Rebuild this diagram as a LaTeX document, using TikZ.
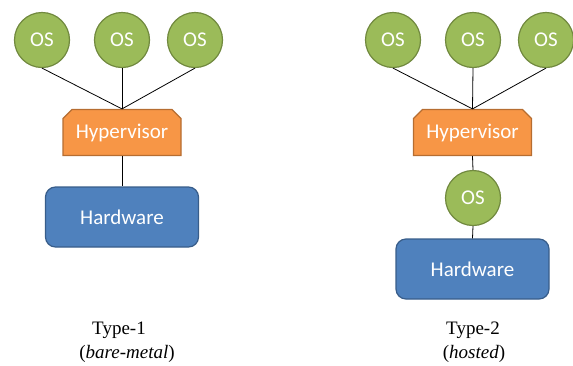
\documentclass[tikz,border=0pt]{standalone}
\usepackage{fontspec}
\setmainfont{Liberation Serif}
\newfontfamily\calib{Carlito}
\usetikzlibrary{shapes.misc}
\definecolor{osgreen}{HTML}{9BBB59}
\definecolor{osline}{HTML}{71893F}
\definecolor{hyporange}{HTML}{F79646}
\definecolor{hypline}{HTML}{B66D31}
\definecolor{hwblue}{HTML}{4F81BD}
\definecolor{hwline}{HTML}{385D8A}

\begin{document}
\begin{tikzpicture}
  [x=1pt,y=-1pt,
   osN/.style={circle,draw=osline,fill=osgreen,line width=1.2pt,minimum size=55pt,inner sep=0pt,
     text=white,font=\calib\fontsize{21}{25}\selectfont},
   hypN/.style={chamfered rectangle,chamfered rectangle corners={north west,north east},
     chamfered rectangle xsep=6pt,draw=hypline,fill=hyporange,line width=1.2pt,
     minimum width=118pt,minimum height=46pt,inner sep=0pt,
     text=white,font=\calib\fontsize{21}{25}\selectfont},
   hwN/.style={rectangle,rounded corners=10pt,draw=hwline,fill=hwblue,line width=1.2pt,
     minimum width=153pt,minimum height=60pt,inner sep=0pt,
     text=white,font=\calib\fontsize{21}{25}\selectfont},
   typeN/.style={font=\fontsize{19}{23}\selectfont},
   link/.style={black,line width=0.8pt}]

  \useasboundingbox (0,0) rectangle (573,365);

  % type-1 (bare-metal)
  \node[osN]  (osA1) at (42,40)    {OS};
  \node[osN]  (osA2) at (122,40)   {OS};
  \node[osN]  (osA3) at (195,40)   {OS};
  \node[hypN] (hypA) at (122,132.5) {Hypervisor};
  \node[hwN]  (hwA)  at (122,217)  {Hardware};

  \draw[link] (osA1.south) -- (hypA.north);
  \draw[link] (osA2.south) -- (hypA.north);
  \draw[link] (osA3.south) -- (hypA.north);
  \draw[link] (hypA.south) -- (hwA.north);

  % type-2 (hosted)
  \node[osN]  (osB1) at (393,40)    {OS};
  \node[osN]  (osB2) at (473,40)    {OS};
  \node[osN]  (osB3) at (546,40)    {OS};
  \node[hypN] (hypB) at (472.5,132.5) {Hypervisor};
  \node[osN]  (osB4) at (473,198)   {OS};
  \node[hwN]  (hwB)  at (472.5,269) {Hardware};

  \draw[link] (osB1.south) -- (hypB.north);
  \draw[link] (osB2.south) -- (hypB.north);
  \draw[link] (osB3.south) -- (hypB.north);
  \draw[link] (hypB.south) -- (osB4.north);
  \draw[link] (osB4.south) -- (hwB.north);

  % labels
  \node[typeN] (typeA) at (119,330) {Type-1};
  \node[typeN] (subA)  at (127,354) {(\textit{bare-metal})};
  \node[typeN] (typeB) at (473,330) {Type-2};
  \node[typeN] (subB)  at (474,354) {(\textit{hosted})};
\end{tikzpicture}
\end{document}
